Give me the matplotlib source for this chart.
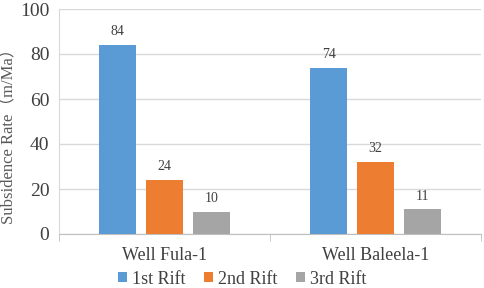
import numpy as np
import matplotlib
matplotlib.use("Agg")
import matplotlib.pyplot as plt

wells = ["Well Fula-1", "Well Baleela-1"]
series = ["1st Rift", "2nd Rift", "3rd Rift"]
rift1 = [84, 74]
rift2 = [24, 32]
rift3 = [10, 11]
colors = ["#5B9BD5", "#ED7D31", "#A5A5A5"]

plt.rcParams["font.family"] = ["Liberation Serif", "Noto Sans CJK SC"]

fig = plt.figure(figsize=(4.84, 2.88), dpi=100)
ax = fig.add_axes([59 / 484, 1 - 234 / 288, (481 - 59) / 484, (234 - 9) / 288])

x = np.arange(len(wells))
step = 0.222
width = 0.175
for i, (vals, name) in enumerate(zip([rift1, rift2, rift3], series)):
    bars = ax.bar(x + (i - 1) * step, vals, width, color=colors[i], label=name, zorder=3)
    for b, v in zip(bars, vals):
        ax.text(b.get_x() + b.get_width() / 2, v + 3, str(v), ha="center", va="bottom",
                fontsize=10, color="#404040")

ax.set_xlim(-0.5, 1.5)
ax.set_ylim(0, 100)
ax.set_yticks(range(0, 101, 20))
ax.set_xticks(x)
ax.set_xticklabels(wells, fontsize=13, color="#404040")
ax.tick_params(axis="x", length=0, pad=9)
ax.tick_params(axis="y", length=0, labelsize=14, labelcolor="#404040", pad=7)
ax.set_xticks([-0.5, 0.5, 1.5], minor=True)
ax.tick_params(axis="x", which="minor", length=5, color="#BFBFBF")

ax.grid(axis="y", color="#D9D9D9", linewidth=1, zorder=0)
for s in ["top", "right"]:
    ax.spines[s].set_visible(False)
ax.spines["left"].set_color("#D9D9D9")
ax.spines["bottom"].set_color("#BFBFBF")

ax.set_ylabel("Subsidence Rate（m/Ma）", fontsize=12, color="#595959")
ax.yaxis.set_label_coords((16 - 59) / 422, 0.45)

fig.legend(loc="center", bbox_to_anchor=(242 / 484, 1 - 279 / 288), ncol=3, frameon=False,
           fontsize=13, handlelength=0.5, handleheight=0.5, handletextpad=0.3,
           columnspacing=1.0, labelcolor="#404040")

fig.savefig("out.png", dpi=100)
